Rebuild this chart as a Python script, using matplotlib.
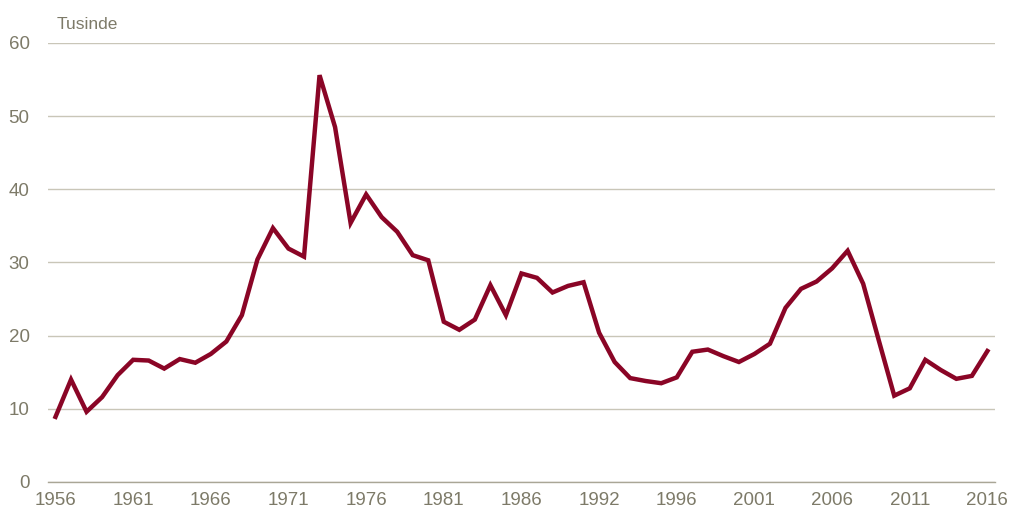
import numpy as np
import matplotlib
matplotlib.use("Agg")
from matplotlib import pyplot as plt

plt.rcParams["font.family"] = ["Liberation Sans Narrow", "Liberation Sans", "DejaVu Sans"]

# --- Data (tusinde) ---
values = [
    8.9, 14.0, 9.6, 11.6, 14.6, 16.7, 16.6, 15.5, 16.8, 16.3,
    17.5, 19.2, 22.8, 30.4, 34.7, 31.9, 30.8, 55.6, 48.5, 35.4,
    39.3, 36.2, 34.2, 31.0, 30.3, 21.9, 20.8, 22.2, 26.9, 22.8,
    28.5, 27.9, 25.9, 26.8, 27.3, 20.4, 16.4, 14.2, 13.8, 13.5,
    14.3, 17.8, 18.1, 17.2, 16.4, 17.5, 18.9, 23.8, 26.4, 27.4,
    29.2, 31.6, 27.1, 19.4, 11.8, 12.8, 16.7, 15.3, 14.1, 14.5,
    17.9,
]
tick_pos = [0, 5, 10, 15, 20, 25, 30, 35, 40, 45, 50, 55, 60]
tick_labels = ["1956", "1961", "1966", "1971", "1976", "1981", "1986",
               "1992", "1996", "2001", "2006", "2011", "2016"]
y_ticks = [0, 10, 20, 30, 40, 50, 60]

text_color = "#7d7a68"
grid_color = "#c9c6b8"
line_color = "#8a0526"

fig = plt.figure(figsize=(10.09, 5.16), dpi=100)
ax = fig.add_axes([0.0473, 0.0659, 0.9390, 0.8508])

x = np.arange(len(values))
ax.plot(x, values, color=line_color, linewidth=3.2, solid_joinstyle="miter", zorder=3)

ax.set_xlim(-0.5, len(values) - 0.5)
ax.set_ylim(0, 60)
ax.set_yticks(y_ticks)
ax.set_xticks(tick_pos)
ax.set_xticklabels(tick_labels)

ax.grid(axis="y", color=grid_color, linewidth=1.0)
ax.set_axisbelow(True)
for s in ["top", "right", "left"]:
    ax.spines[s].set_visible(False)
ax.spines["bottom"].set_color("#a9a696")
ax.spines["bottom"].set_linewidth(1.0)

ax.tick_params(axis="both", length=0, labelsize=13.5, colors=text_color)
ax.tick_params(axis="x", pad=7)
ax.tick_params(axis="y", pad=13)

fig.text(0.0565, 0.952, "Tusinde", fontsize=12.5, color=text_color, va="center", ha="left")

fig.savefig("out.png", dpi=100)
